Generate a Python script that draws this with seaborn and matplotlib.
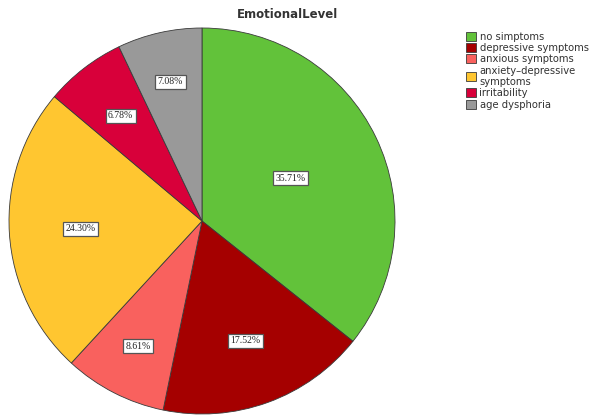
import matplotlib
matplotlib.use("Agg")
import matplotlib.pyplot as plt
import numpy as np
import seaborn as sns

categories = ["no simptoms", "depressive symptoms", "anxious symptoms",
              "anxiety\u2013depressive\nsymptoms", "irritability", "age dysphoria"]
percentages = [35.71, 17.52, 8.61, 24.30, 6.78, 7.08]
slice_colors = ["#62C23A", "#A50000", "#F9615E", "#FFC630", "#D8003A", "#999999"]
title = "EmotionalLevel"

sns.set_style("white")
palette = sns.color_palette(slice_colors)

W, H = 593, 417
fig = plt.figure(figsize=(W / 100, H / 100), dpi=100)

# pie centred at (202, 221) px with radius 193 px
cx, cy, r = 202, 221, 193
ax = fig.add_axes([(cx - r) / W, (H - cy - r) / H, 2 * r / W, 2 * r / H])

wedges, texts, autotexts = ax.pie(
    percentages, colors=palette, startangle=90, counterclock=False,
    radius=1.0, autopct=lambda p: f"{p:.2f}%", pctdistance=0.65,
    wedgeprops=dict(edgecolor="#3a3a3a", linewidth=0.6),
    textprops=dict(fontsize=7, family="Liberation Serif", color="#222222"))

ax.set_xlim(-1, 1)
ax.set_ylim(-1, 1)
ax.set_aspect("equal")
ax.axis("off")

# per-slice label radii
label_r = [0.51, 0.66, 0.73, 0.63, 0.69, 0.74]
for w, t, lr in zip(wedges, autotexts, label_r):
    ang = np.deg2rad((w.theta1 + w.theta2) / 2)
    t.set_position((lr * np.cos(ang), lr * np.sin(ang)))
    t.set_bbox(dict(boxstyle="square,pad=0.25", facecolor="white",
                    edgecolor="#555555", linewidth=0.9))

fig.text(287 / W, 1 - 15 / H, title, ha="center", va="center",
         fontsize=8.5, fontweight="bold", color="#333333")

leg = fig.legend(wedges, categories, loc="upper left",
                 bbox_to_anchor=(459 / W, 1 - 25 / H), frameon=False,
                 fontsize=7.2, handlelength=1.0, handleheight=1.0,
                 handletextpad=0.35, labelspacing=0.12, borderpad=0.2,
                 labelcolor="#333333")

fig.savefig("out.png", dpi=100, facecolor="white")
